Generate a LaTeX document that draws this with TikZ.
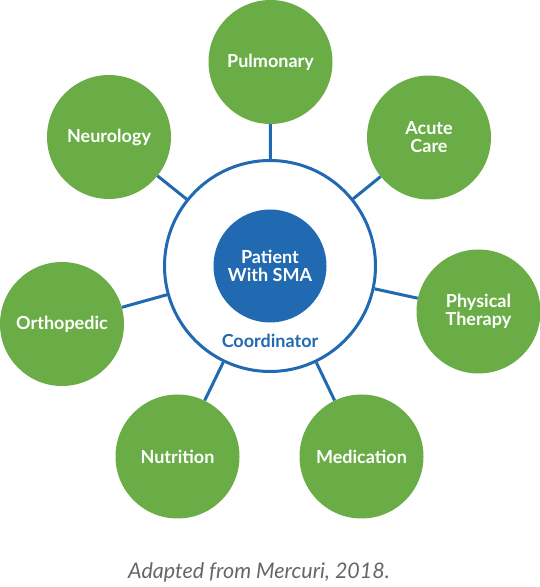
\documentclass[tikz,border=0pt]{standalone}
\usepackage{fontspec}
\setmainfont{Lato}
\definecolor{smagreen}{HTML}{6AAD47}
\definecolor{smablue}{HTML}{2169B0}
\definecolor{capgray}{HTML}{666666}
\begin{document}
\begin{tikzpicture}[x=1pt,y=1pt,
  spoke/.style={circle,fill=smagreen,draw=none,minimum size=124pt,inner sep=0pt,
    text=white,font=\bfseries\fontsize{18}{18}\selectfont,align=center},
  link/.style={draw=smablue,line width=3pt}]
\useasboundingbox (0,0) rectangle (540,587);
\node[circle,draw=smablue,line width=3pt,fill=white,minimum size=211pt,inner sep=0pt] (coord) at (270,321) {};
\node[circle,fill=smablue,minimum size=113pt,inner sep=0pt,text=white,
  font=\bfseries\fontsize{18}{18}\selectfont,align=center] (patient) at (270,321) {Patient\\With SMA};
\node[text=smablue,font=\bfseries\fontsize{18}{18}\selectfont] (coordlabel) at (270,246) {Coordinator};
\node[spoke] (pulm) at (270.5,525) {Pulmonary};
\node[spoke] (acute) at (429,449.5) {Acute\\Care};
\node[spoke] (phys) at (478.5,275.5) {Physical\\Therapy};
\node[spoke] (med) at (361.5,130.5) {Medication};
\node[spoke] (nutr) at (177.5,130.5) {Nutrition};
\node[spoke] (ortho) at (62,263) {Orthopedic};
\node[spoke] (neuro) at (109,450) {Neurology};
\foreach \n in {pulm,acute,phys,med,nutr,ortho,neuro}{
  \draw[link] (coord) -- (\n);
}
\node[text=capgray,font=\itshape\fontsize{21.5}{24}\selectfont] (caption) at (259,15) {Adapted from Mercuri, 2018.};
\end{tikzpicture}
\end{document}
